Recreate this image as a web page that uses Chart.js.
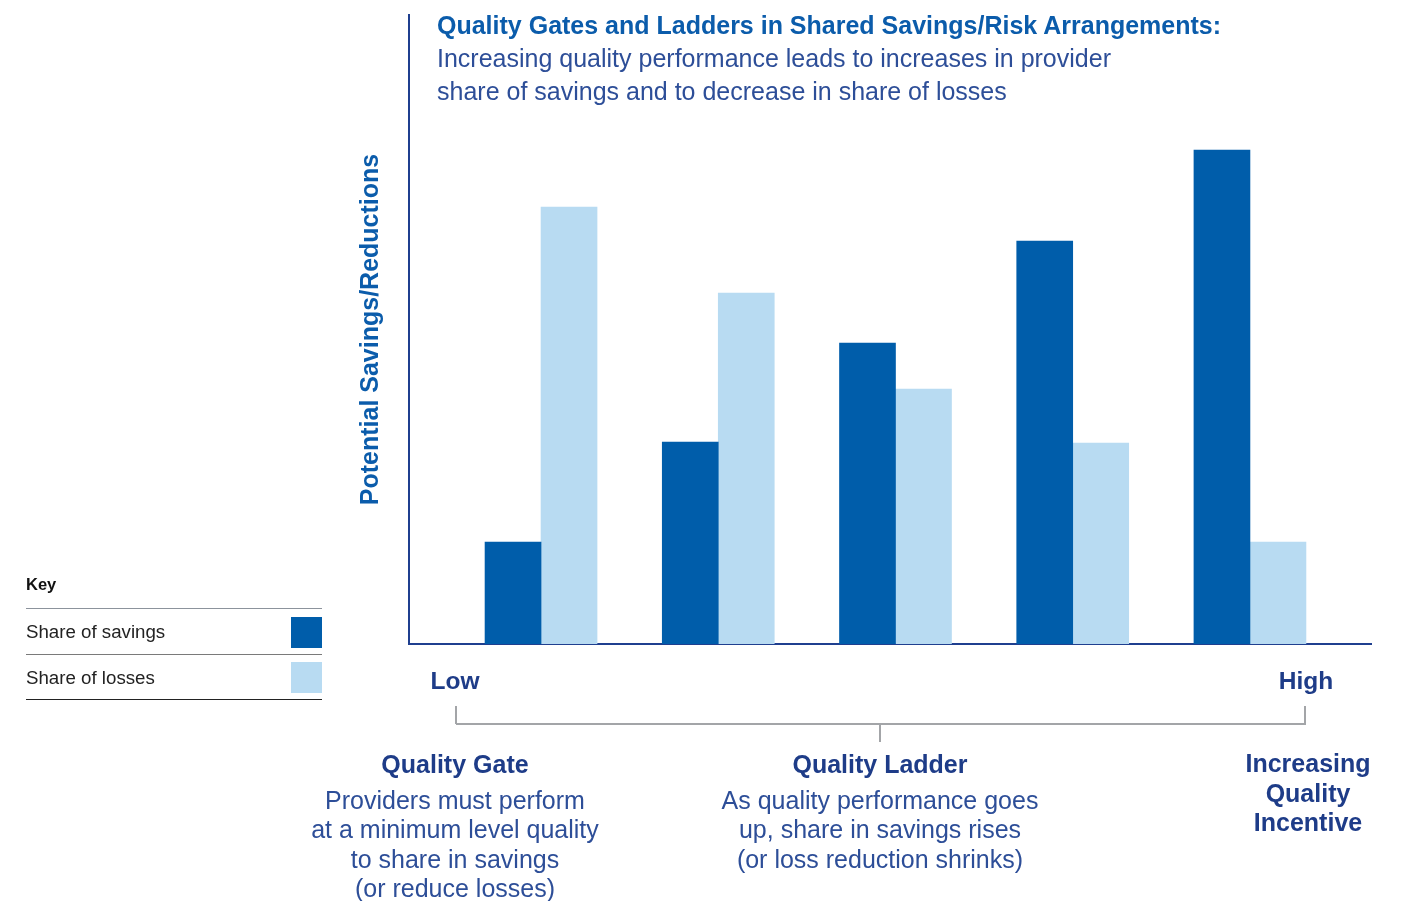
<!DOCTYPE html>
<html>
<head>
<meta charset="utf-8">
<script src="https://cdn.jsdelivr.net/npm/chart.js@4.4.1/dist/chart.umd.min.js"></script>
<style>
  body { margin: 0; background: #fff; font-family: "Liberation Sans", Arial, sans-serif; }
  #wrap { position: relative; width: 1402px; height: 901px; overflow: hidden; }
  #chart { position: absolute; left: 0; top: 0; }
  .t { position: absolute; white-space: nowrap; }
  .heading { left: 437px; top: 10px; font-size: 25px; font-weight: bold; color: #0b5cab; line-height: 30px; }
  .sub { left: 437px; top: 42px; font-size: 25px; color: #2d4e98; line-height: 33px; }
  .key { left: 26px; top: 575px; font-size: 16.5px; font-weight: bold; color: #111; }
  .keyline { position: absolute; left: 26px; width: 296px; height: 0; }
  .keylabel { left: 26px; font-size: 18.7px; color: #222; line-height: 22px; }
  .swatch { position: absolute; left: 291px; width: 31px; height: 31px; }
  .end { font-size: 24.5px; font-weight: bold; color: #1e3c88; line-height: 28px; width: 200px; text-align: center; }
  .note { font-size: 25px; color: #2d4e98; line-height: 29.3px; width: 400px; text-align: center; }
  .note b { color: #1e3c88; display: block; line-height: 30px; margin-bottom: 7px; }
  .bracket { position: absolute; background: #a3a5a8; }
</style>
</head>
<body>
<div id="wrap">
  <canvas id="chart" width="1402" height="901"></canvas>

  <div class="t heading">Quality Gates and Ladders in Shared Savings/Risk Arrangements:</div>
  <div class="t sub">Increasing quality performance leads to increases in provider<br>share of savings and to decrease in share of losses</div>

  <div class="t key">Key</div>
  <div class="keyline" style="top:608px; border-top:1.5px solid #8c939c"></div>
  <div class="t keylabel" style="top:621px">Share of savings</div>
  <div class="swatch" style="top:617px; background:#005daa"></div>
  <div class="keyline" style="top:654px; border-top:1.5px solid #7a7a7a"></div>
  <div class="t keylabel" style="top:667px">Share of losses</div>
  <div class="swatch" style="top:662px; background:#b8dbf2"></div>
  <div class="keyline" style="top:699px; border-top:1.5px solid #222"></div>

  <div class="t end" style="left:355px; top:667px">Low</div>
  <div class="t end" style="left:1206px; top:667px">High</div>

  <div class="bracket" style="left:456px; top:723px; width:850px; height:1.5px"></div>
  <div class="bracket" style="left:455px; top:706px; width:1.5px; height:18px"></div>
  <div class="bracket" style="left:1304px; top:706px; width:1.5px; height:18px"></div>
  <div class="bracket" style="left:879px; top:724px; width:1.5px; height:18px"></div>

  <div class="t note" style="left:255px; top:749px"><b>Quality Gate</b>Providers must perform<br>at a minimum level quality<br>to share in savings<br>(or reduce losses)</div>
  <div class="t note" style="left:680px; top:749px"><b>Quality Ladder</b>As quality performance goes<br>up, share in savings rises<br>(or loss reduction shrinks)</div>
  <div class="t note" style="left:1108px; top:749px"><b style="margin-bottom:0; line-height:29.5px">Increasing<br>Quality<br>Incentive</b></div>
</div>

<script>
// quality performance steps, low to high
const levels = [0, 1, 2, 3, 4];
const shareOfSavings = [1.02, 2.02, 3.01, 4.03, 4.94];
const shareOfLosses = [4.37, 3.51, 2.55, 2.01, 1.02];

const toPoints = (vals) => levels.map((x, i) => ({ x: x, y: vals[i] }));

Chart.defaults.font.family = '"Liberation Sans", Arial, sans-serif';

new Chart(document.getElementById('chart'), {
  type: 'bar',
  data: {
    datasets: [
      { label: 'Share of savings', data: toPoints(shareOfSavings), backgroundColor: '#005daa', barThickness: 56 },
      { label: 'Share of losses', data: toPoints(shareOfLosses), backgroundColor: '#b8dbf2', barThickness: 56 }
    ]
  },
  options: {
    responsive: false,
    animation: false,
    layout: { padding: { left: 352, top: 15, right: 31, bottom: 257 } },
    plugins: { legend: { display: false }, tooltip: { enabled: false } },
    scales: {
      x: {
        type: 'linear', min: -0.745, max: 4.683, offset: false,
        ticks: { display: false },
        grid: { display: false, drawTicks: false },
        border: { display: true, color: '#1f3f8f', width: 2 }
      },
      y: {
        min: 0, max: 6.29,
        ticks: { display: false },
        grid: { display: false, drawTicks: false },
        border: { display: true, color: '#1f3f8f', width: 2 },
        title: {
          display: true, text: 'Potential Savings/Reductions',
          color: '#0b5cab', font: { size: 25, weight: 'bold' },
          padding: { top: 4, bottom: 23 }
        }
      }
    }
  }
});
</script>
</body>
</html>
